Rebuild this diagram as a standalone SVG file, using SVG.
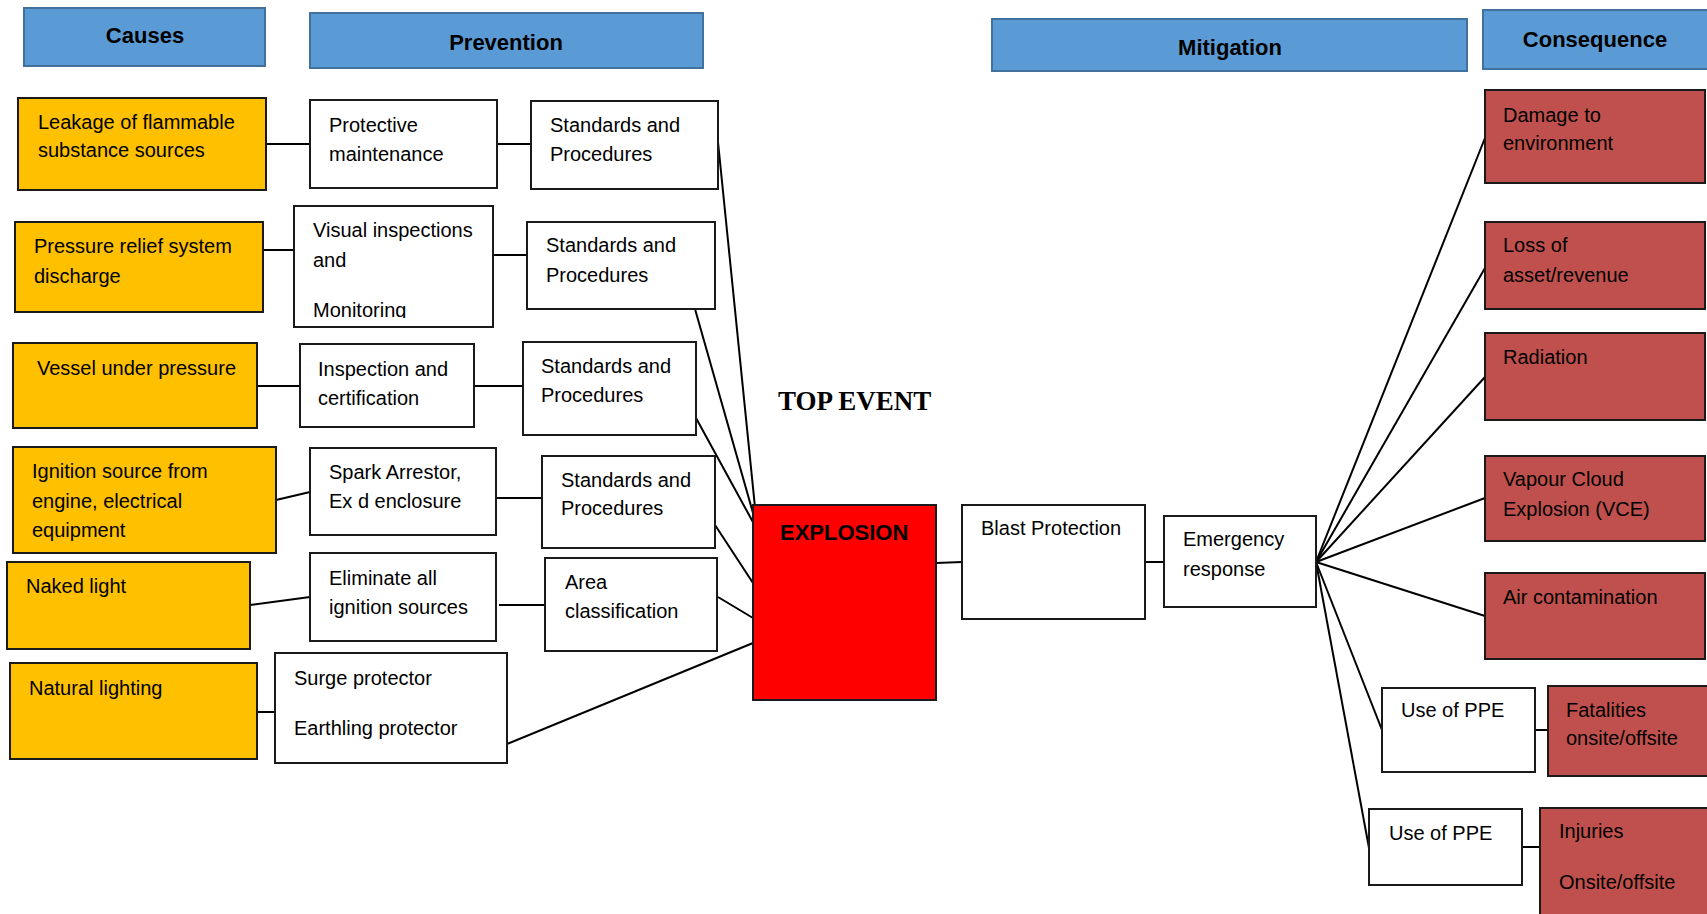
<svg xmlns="http://www.w3.org/2000/svg" width="1707" height="914" viewBox="0 0 1707 914">
<style>
.hdr{fill:#5B9BD5;stroke:#41719C;stroke-width:2}
.hdr-t{font-family:"Liberation Sans",Arial,sans-serif;font-weight:bold;font-size:22px;fill:#000;text-anchor:middle}
.cause{fill:#FFC000;stroke:#1a1a1a;stroke-width:2}
.box{fill:#fff;stroke:#1a1a1a;stroke-width:2}
.cons{fill:#C0504D;stroke:#1a1a1a;stroke-width:2}
.top{fill:#FF0000;stroke:#1a1a1a;stroke-width:2}
.t{font-family:"Liberation Sans",Arial,sans-serif;font-size:20px;fill:#000}
.tb{font-family:"Liberation Sans",Arial,sans-serif;font-size:22px;font-weight:bold;fill:#000}
.ts{font-family:"Liberation Serif","Times New Roman",serif;font-size:27px;font-weight:bold;fill:#000}
.ln{stroke:#000;stroke-width:2;fill:none}
</style>
<defs>
<clipPath id="clipP2"><rect x="294" y="206" width="199" height="112"/></clipPath>
</defs>
<rect x="0" y="0" width="1707" height="914" fill="#fff"/>

<g id="connectors">
<line class="ln" x1="266" y1="144" x2="310" y2="144"/>
<line class="ln" x1="497" y1="144" x2="531" y2="144"/>
<line class="ln" x1="263" y1="250" x2="294" y2="250"/>
<line class="ln" x1="491" y1="255" x2="527" y2="255"/>
<line class="ln" x1="257" y1="386" x2="300" y2="386"/>
<line class="ln" x1="474" y1="386" x2="523" y2="386"/>
<line class="ln" x1="276" y1="500" x2="310" y2="492"/>
<line class="ln" x1="496" y1="498" x2="542" y2="498"/>
<line class="ln" x1="250" y1="605" x2="310" y2="597"/>
<line class="ln" x1="499" y1="605" x2="545" y2="605"/>
<line class="ln" x1="257" y1="712" x2="275" y2="712"/>
<line class="ln" x1="718" y1="142" x2="757" y2="527"/>
<line class="ln" x1="695" y1="309" x2="757" y2="527"/>
<line class="ln" x1="696" y1="418" x2="754" y2="524"/>
<line class="ln" x1="715" y1="525" x2="753" y2="583"/>
<line class="ln" x1="718" y1="597" x2="753" y2="618"/>
<line class="ln" x1="507" y1="744" x2="753" y2="643"/>
<line class="ln" x1="936" y1="563" x2="962" y2="562"/>
<line class="ln" x1="1145" y1="562" x2="1164" y2="562"/>
<line class="ln" x1="1316" y1="562" x2="1485" y2="138"/>
<line class="ln" x1="1316" y1="562" x2="1485" y2="268"/>
<line class="ln" x1="1316" y1="562" x2="1485" y2="377"/>
<line class="ln" x1="1316" y1="562" x2="1485" y2="498"/>
<line class="ln" x1="1316" y1="562" x2="1485" y2="616"/>
<line class="ln" x1="1316" y1="562" x2="1382" y2="730"/>
<line class="ln" x1="1316" y1="562" x2="1369" y2="848"/>
<line class="ln" x1="1535" y1="730" x2="1548" y2="730"/>
<line class="ln" x1="1522" y1="847" x2="1540" y2="847"/>
</g>

<g id="h-causes"><rect class="hdr" x="24" y="8" width="241" height="58"/><text class="hdr-t" x="145" y="43">Causes</text></g>
<g id="h-prevention"><rect class="hdr" x="310" y="13" width="393" height="55"/><text class="hdr-t" x="506" y="50">Prevention</text></g>
<g id="h-mitigation"><rect class="hdr" x="992" y="19" width="475" height="52"/><text class="hdr-t" x="1230" y="55">Mitigation</text></g>
<g id="h-consequence"><rect class="hdr" x="1483" y="10" width="230" height="59"/><text class="hdr-t" x="1595" y="47">Consequence</text></g>

<g id="cause-leakage"><rect class="cause" x="18" y="98" width="248" height="92"/><text class="t" x="38" y="129">Leakage of flammable</text><text class="t" x="38" y="157">substance sources</text></g>
<g id="cause-pressure-relief"><rect class="cause" x="15" y="222" width="248" height="90"/><text class="t" x="34" y="253">Pressure relief system</text><text class="t" x="34" y="283">discharge</text></g>
<g id="cause-vessel"><rect class="cause" x="13" y="343" width="244" height="85"/><text class="t" x="37" y="375">Vessel under pressure</text></g>
<g id="cause-ignition"><rect class="cause" x="13" y="447" width="263" height="106"/><text class="t" x="32" y="478">Ignition source from</text><text class="t" x="32" y="508">engine, electrical</text><text class="t" x="32" y="537">equipment</text></g>
<g id="cause-naked-light"><rect class="cause" x="7" y="562" width="243" height="87"/><text class="t" x="26" y="593">Naked light</text></g>
<g id="cause-natural-lighting"><rect class="cause" x="10" y="663" width="247" height="96"/><text class="t" x="29" y="695">Natural lighting</text></g>

<g id="prev-protective-maintenance"><rect class="box" x="310" y="100" width="187" height="88"/><text class="t" x="329" y="132">Protective</text><text class="t" x="329" y="161">maintenance</text></g>
<g id="prev-visual-inspections"><rect class="box" x="294" y="206" width="199" height="121"/><g clip-path="url(#clipP2)"><text class="t" x="313" y="237">Visual inspections</text><text class="t" x="313" y="267">and</text><text class="t" x="313" y="317">Monitoring</text></g></g>
<g id="prev-inspection-certification"><rect class="box" x="300" y="344" width="174" height="83"/><text class="t" x="318" y="376">Inspection and</text><text class="t" x="318" y="405">certification</text></g>
<g id="prev-spark-arrestor"><rect class="box" x="310" y="448" width="186" height="87"/><text class="t" x="329" y="479">Spark Arrestor,</text><text class="t" x="329" y="508">Ex d enclosure</text></g>
<g id="prev-eliminate"><rect class="box" x="310" y="553" width="186" height="88"/><text class="t" x="329" y="585">Eliminate all</text><text class="t" x="329" y="614">ignition sources</text></g>
<g id="prev-surge"><rect class="box" x="275" y="653" width="232" height="110"/><text class="t" x="294" y="685">Surge protector</text><text class="t" x="294" y="735">Earthling protector</text></g>

<g id="std-1"><rect class="box" x="531" y="101" width="187" height="88"/><text class="t" x="550" y="132">Standards and</text><text class="t" x="550" y="161">Procedures</text></g>
<g id="std-2"><rect class="box" x="527" y="222" width="188" height="87"/><text class="t" x="546" y="252">Standards and</text><text class="t" x="546" y="282">Procedures</text></g>
<g id="std-3"><rect class="box" x="523" y="342" width="173" height="93"/><text class="t" x="541" y="373">Standards and</text><text class="t" x="541" y="402">Procedures</text></g>
<g id="std-4"><rect class="box" x="542" y="456" width="173" height="92"/><text class="t" x="561" y="487">Standards and</text><text class="t" x="561" y="515">Procedures</text></g>
<g id="area-classification"><rect class="box" x="545" y="558" width="172" height="93"/><text class="t" x="565" y="589">Area</text><text class="t" x="565" y="618">classification</text></g>

<g id="top-event-label"><text class="ts" x="778" y="410">TOP EVENT</text></g>
<g id="top-event"><rect class="top" x="753" y="505" width="183" height="195"/><text class="tb" x="780" y="540">EXPLOSION</text></g>

<g id="mit-blast"><rect class="box" x="962" y="505" width="183" height="114"/><text class="t" x="981" y="535">Blast Protection</text></g>
<g id="mit-emergency"><rect class="box" x="1164" y="516" width="152" height="91"/><text class="t" x="1183" y="546">Emergency</text><text class="t" x="1183" y="576">response</text></g>
<g id="mit-ppe-1"><rect class="box" x="1382" y="688" width="153" height="84"/><text class="t" x="1401" y="717">Use of PPE</text></g>
<g id="mit-ppe-2"><rect class="box" x="1369" y="809" width="153" height="76"/><text class="t" x="1389" y="840">Use of PPE</text></g>

<g id="cons-damage"><rect class="cons" x="1485" y="90" width="220" height="93"/><text class="t" x="1503" y="122">Damage to</text><text class="t" x="1503" y="150">environment</text></g>
<g id="cons-loss"><rect class="cons" x="1485" y="222" width="220" height="87"/><text class="t" x="1503" y="252">Loss of</text><text class="t" x="1503" y="282">asset/revenue</text></g>
<g id="cons-radiation"><rect class="cons" x="1485" y="333" width="220" height="87"/><text class="t" x="1503" y="364">Radiation</text></g>
<g id="cons-vce"><rect class="cons" x="1485" y="456" width="220" height="85"/><text class="t" x="1503" y="486">Vapour Cloud</text><text class="t" x="1503" y="516">Explosion (VCE)</text></g>
<g id="cons-air"><rect class="cons" x="1485" y="573" width="220" height="86"/><text class="t" x="1503" y="604">Air contamination</text></g>
<g id="cons-fatalities"><rect class="cons" x="1548" y="686" width="165" height="90"/><text class="t" x="1566" y="717">Fatalities</text><text class="t" x="1566" y="745">onsite/offsite</text></g>
<g id="cons-injuries"><rect class="cons" x="1540" y="808" width="175" height="112"/><text class="t" x="1559" y="838">Injuries</text><text class="t" x="1559" y="889">Onsite/offsite</text></g>
</svg>
